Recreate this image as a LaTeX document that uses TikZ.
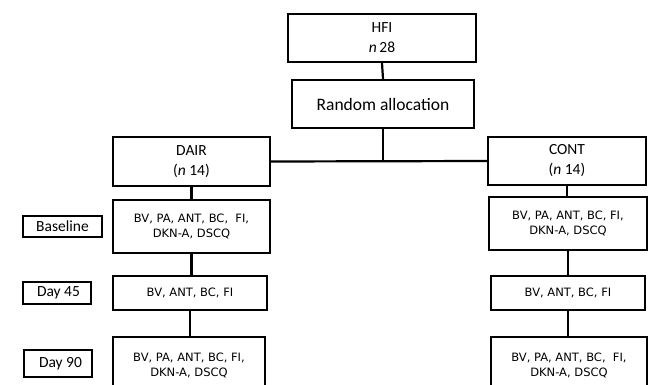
\documentclass[tikz,border=0pt]{standalone}
\usepackage{fontspec}
\setmainfont{Carlito}
\newfontfamily\measfont{DejaVu Sans}
\tikzset{
  box/.style={draw=black, line width=2.4pt, fill=white, inner sep=0pt, align=center,
    font=\fontsize{15.5}{20}\selectfont},
  measbox/.style={box, font=\measfont\fontsize{11.5}{15}\selectfont},
  tagbox/.style={draw=black, line width=2.4pt, fill=white, inner sep=0pt,
    font=\fontsize{15.5}{18}\selectfont},
  link/.style={line width=2.2pt}
}
\begin{document}
\begin{tikzpicture}[x=1pt,y=-1pt]
\useasboundingbox (0,0) rectangle (648,385);
\clip (0,0) rectangle (648,385);
\fill[white] (0,0) rectangle (648,385);
% connectors (drawn first, boxes cover their ends)
\coordinate (j) at (383,161);
% top
\node[box, minimum width=188pt, minimum height=48pt] (hfi) at (382,38) {HFI\\\textit{n}\,28};
\node[box, minimum width=182pt, minimum height=48pt, font=\fontsize{17.5}{20}\selectfont] (ra) at (383,104) {Random allocation};
% groups
\node[box, minimum width=157pt, minimum height=49pt] (dair) at (191.5,161.5) {DAIR\\(\textit{n} 14)};
\node[box, minimum width=158pt, minimum height=48pt] (cont) at (567,161) {CONT\\(\textit{n} 14)};
% left column
\node[measbox, minimum width=157pt, minimum height=53pt] (lb1) at (191.5,226.5) {BV, PA, ANT, BC,\ \ FI,\\DKN-A, DSCQ};
\node[measbox, minimum width=154pt, minimum height=34pt] (l45) at (190,293) {BV, ANT, BC, FI};
\node[measbox, minimum width=152pt, minimum height=56pt] (l90) at (189,365) {BV, PA, ANT, BC, FI,\\DKN-A, DSCQ};
% right column
\node[measbox, minimum width=158pt, minimum height=53pt] (rb1) at (568,223.5) {BV, PA, ANT, BC, FI,\\DKN-A, DSCQ};
\node[measbox, minimum width=154pt, minimum height=34pt] (r45) at (568,293) {BV, ANT, BC, FI};
\node[measbox, minimum width=156pt, minimum height=56pt] (r90) at (569,365) {BV, PA, ANT, BC,\ \ FI,\\DKN-A, DSCQ};
% time tags
\node[tagbox, minimum width=79pt, minimum height=21pt] (tb) at (62.5,226.5) {Baseline};
\node[tagbox, minimum width=68pt, minimum height=22pt] (t45) at (57,293) {\hspace*{3pt}Day 45};
\node[tagbox, minimum width=68pt, minimum height=27pt] (t90) at (58,363.5) {\hspace*{5pt}Day 90};
% connectors
\draw[link] (hfi.south) -- (ra.north);
\draw[link] (ra.south) -- (j);
\draw[link] (dair.east) -- (cont.west);
\draw[link] (dair.south) -- (dair.south |- lb1.north);
\draw[link] (lb1.south) -- (lb1.south |- l45.north);
\draw[link] (l45.south) -- (l45.south |- l90.north);
\draw[link] (cont.south) -- (cont.south |- rb1.north);
\draw[link] (rb1.south) -- (rb1.south |- r45.north);
\draw[link] (r45.south) -- (r45.south |- r90.north);
\end{tikzpicture}
\end{document}
